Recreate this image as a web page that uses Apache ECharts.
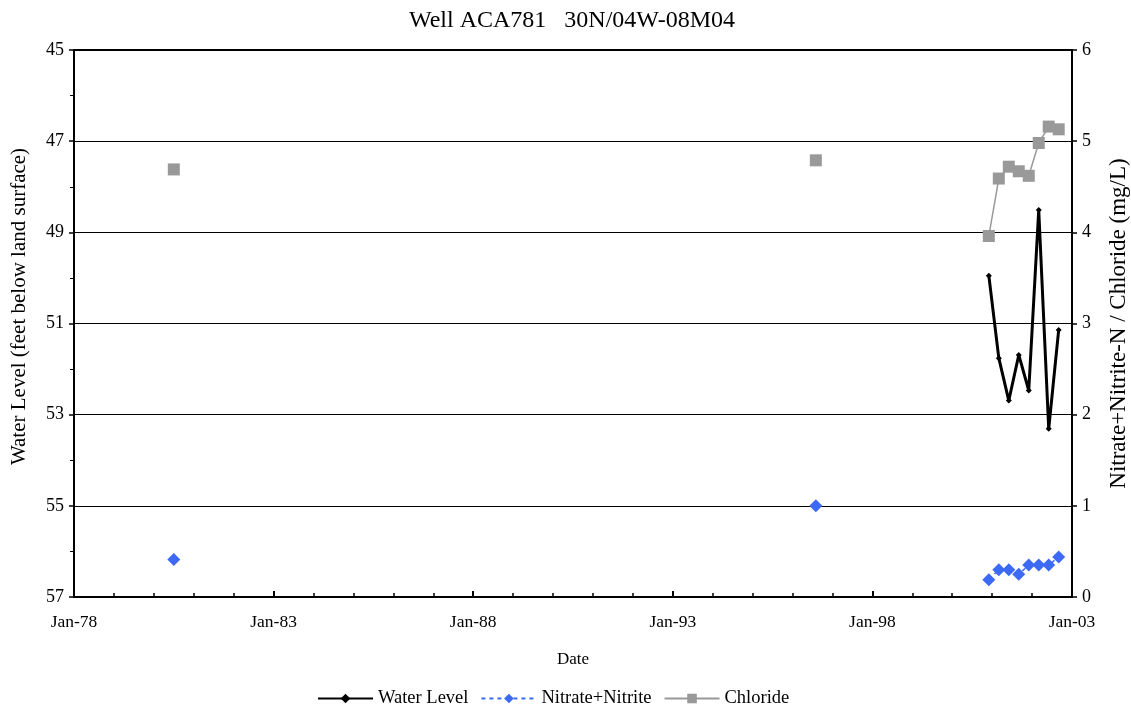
<!DOCTYPE html>
<html>
<head>
<meta charset="utf-8">
<script src="https://cdn.jsdelivr.net/npm/echarts@6/dist/echarts.min.js"></script>
<style>html,body{margin:0;padding:0;background:#fff}#c{width:1131px;height:715px}</style>
</head>
<body>
<div id="c"></div>
<script>
// Dates as 'YYYY-MM'
const wlDates = ['2000-12','2001-03','2001-06','2001-09','2001-12','2002-03','2002-06','2002-09'];
const wlValues = [49.95, 51.76, 52.69, 51.69, 52.47, 48.51, 53.31, 51.14];

const nitDates = ['1980-07','1996-08','2000-12','2001-03','2001-06','2001-09','2001-12','2002-03','2002-06','2002-09'];
const nitValues = [0.41, 1.0, 0.19, 0.30, 0.30, 0.25, 0.35, 0.35, 0.35, 0.44];

const clDates = ['1980-07','1996-08','2000-12','2001-03','2001-06','2001-09','2001-12','2002-03','2002-06','2002-09'];
const clValues = [4.69, 4.79, 3.96, 4.59, 4.72, 4.67, 4.62, 4.98, 5.16, 5.13];

// indices in nit/cl arrays where a new unconnected segment begins
const breakBefore = [1, 2];

const xTickYears = [1978, 1983, 1988, 1993, 1998, 2003];

function toYear(s) {
  const [y, m] = s.split('-').map(Number);
  return y + (m - 1) / 12;
}
function buildSeriesData(dates, values, breaks) {
  const out = [];
  dates.forEach((d, i) => {
    if (breaks.includes(i)) out.push([toYear(d) - 0.01, '-']);
    out.push([toYear(d), values[i]]);
  });
  return out;
}

const chart = echarts.init(document.getElementById('c'));
const serif = 'Liberation Serif, Times New Roman, serif';

chart.setOption({
  animation: false,
  backgroundColor: '#fff',
  textStyle: { fontFamily: serif },
  title: {
    text: 'Well ACA781   30N/04W-08M04',
    left: 567, top: 4, textAlign: 'center',
    textStyle: { fontFamily: serif, fontSize: 24, fontWeight: 'normal', color: '#000' }
  },
  grid: {
    left: 74, right: 59, top: 50, bottom: 118,
    containLabel: false, outerBoundsMode: 'none',
    show: true, borderColor: '#000', borderWidth: 2, backgroundColor: 'transparent'
  },
  legend: {
    bottom: 2, left: 312,
    itemWidth: 55, itemHeight: 12, itemGap: 12,
    textStyle: { fontFamily: serif, fontSize: 18.5, color: '#000' },
    data: ['Water Level', 'Nitrate+Nitrite', 'Chloride']
  },
  xAxis: {
    type: 'value', min: 1978, max: 2003, interval: 5,
    name: 'Date', nameLocation: 'middle', nameGap: 54,
    nameTextStyle: { fontFamily: serif, fontSize: 17, color: '#000' },
    axisLine: { lineStyle: { color: '#000', width: 2 } },
    axisTick: { inside: true, length: 6, lineStyle: { color: '#000', width: 2 } },
    minorTick: { show: true, splitNumber: 5, length: 4, lineStyle: { color: '#000', width: 1.5 } },
    axisLabel: {
      margin: 16, fontFamily: serif, fontSize: 17.5, color: '#000',
      formatter: v => xTickYears.includes(v) ? 'Jan-' + String(v).slice(2) : ''
    },
    splitLine: { show: false }
  },
  yAxis: [
    {
      type: 'value', inverse: true, min: 45, max: 57, interval: 2,
      name: 'Water Level (feet below land surface)', nameLocation: 'middle', nameGap: 44,
      nameTextStyle: { fontFamily: serif, fontSize: 21, color: '#000', padding: [0, 0, 0, 34] },
      axisLine: { show: true, lineStyle: { color: '#000', width: 2 } },
      axisTick: { show: true, length: 5, lineStyle: { color: '#000', width: 1.5 } },
      minorTick: { show: true, splitNumber: 2, length: 4, lineStyle: { color: '#000' } },
      axisLabel: { margin: 10, fontFamily: serif, fontSize: 18, color: '#000' },
      splitLine: { show: true, lineStyle: { color: '#000', width: 1 } }
    },
    {
      type: 'value', min: 0, max: 6, interval: 1,
      name: 'Nitrate+Nitrite-N / Chloride (mg/L)', nameLocation: 'middle', nameGap: 35,
      nameRotate: 90,
      nameTextStyle: { fontFamily: serif, fontSize: 23, color: '#000' },
      axisLine: { show: true, lineStyle: { color: '#000', width: 2 } },
      axisTick: { show: true, length: 5, lineStyle: { color: '#000', width: 1.5 } },
      axisLabel: { margin: 10, fontFamily: serif, fontSize: 18, color: '#000' },
      splitLine: { show: false }
    }
  ],
  series: [
    {
      name: 'Water Level', type: 'line', yAxisIndex: 0,
      data: wlDates.map((d, i) => [toYear(d), wlValues[i]]),
      symbol: 'diamond', symbolSize: 6,
      itemStyle: { color: '#000' },
      lineStyle: { color: '#000', width: 3 },
      z: 5
    },
    {
      name: 'Nitrate+Nitrite', type: 'line', yAxisIndex: 1,
      data: buildSeriesData(nitDates, nitValues, breakBefore),
      connectNulls: false,
      symbol: 'diamond', symbolSize: 13,
      itemStyle: { color: '#3d6af5' },
      lineStyle: { color: '#3d6af5', width: 1.5, type: [4, 4] },
      z: 4
    },
    {
      name: 'Chloride', type: 'line', yAxisIndex: 1,
      data: buildSeriesData(clDates, clValues, breakBefore),
      connectNulls: false,
      symbol: 'rect', symbolSize: 12,
      itemStyle: { color: '#999999' },
      lineStyle: { color: '#999999', width: 1.5 },
      z: 3
    }
  ]
});
</script>
</body>
</html>
